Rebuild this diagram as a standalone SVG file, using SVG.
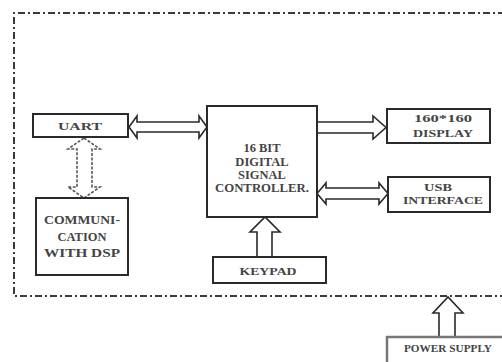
<svg xmlns="http://www.w3.org/2000/svg" width="502" height="362" viewBox="0 0 502 362">
<style>
.box{fill:#fff;stroke:#2a2a2a;stroke-width:2}
.arr{fill:#fff;stroke:#2a2a2a;stroke-width:1.6;stroke-linejoin:miter}
.dash{fill:none;stroke:#3a3a3a;stroke-width:2;stroke-dasharray:7 3 2 3}
.t{font-family:"Liberation Serif","Times New Roman",serif;font-weight:bold;fill:#444;text-anchor:middle}
</style>
<rect width="502" height="362" fill="#fff"/>
<g id="boundary">
<path class="dash" d="M520,13 L14,13 L14,296 L520,296"/>
</g>
<g id="connectors">
<path class="arr" d="M129,127 L137,116 L137,122 L199,122 L199,116 L207,127 L199,138 L199,132 L137,132 L137,138 Z"/>
<path class="arr" style="stroke:#555;stroke-dasharray:3 1.5" d="M84,138 L100,149 L92,149 L92,187 L100,187 L84,198 L68,187 L77,187 L77,149 L68,149 Z"/>
<path class="arr" d="M317,122 L373,122 L373,116 L386,127.5 L373,139 L373,133 L317,133 Z"/>
<path class="arr" d="M317,193.5 L326,183 L326,188 L379,188 L379,183 L388,193.5 L379,204 L379,199 L326,199 L326,204 Z"/>
<path class="arr" d="M257,257 L257,232 L250,232 L265,217 L280,232 L272,232 L272,257"/>
<path class="arr" d="M439,337 L439,313 L433,313 L448,297 L463,313 L455,313 L455,337"/>
</g>
<g id="uart">
<rect class="box" x="33" y="114" width="95" height="23"/>
<text class="t" x="80" y="130" font-size="10" textLength="44" lengthAdjust="spacingAndGlyphs">UART</text>
</g>
<g id="comm">
<rect class="box" x="36" y="198" width="92" height="77"/>
<text class="t" x="82" y="224" font-size="12" textLength="76" lengthAdjust="spacingAndGlyphs">COMMUNI-</text>
<text class="t" x="82" y="241" font-size="12" textLength="49" lengthAdjust="spacingAndGlyphs">CATION</text>
<text class="t" x="82" y="257" font-size="12" textLength="76" lengthAdjust="spacingAndGlyphs">WITH DSP</text>
</g>
<g id="dsc">
<rect class="box" x="207" y="106" width="110" height="111"/>
<text class="t" x="262" y="152" font-size="12.5">16 BIT</text>
<text class="t" x="262" y="166" font-size="12.5">DIGITAL</text>
<text class="t" x="262" y="179" font-size="12.5">SIGNAL</text>
<text class="t" x="262" y="192" font-size="12.5" textLength="94" lengthAdjust="spacingAndGlyphs">CONTROLLER.</text>
</g>
<g id="display">
<rect class="box" x="387" y="109" width="103" height="34"/>
<text class="t" x="443" y="122" font-size="10" textLength="58" lengthAdjust="spacingAndGlyphs">160*160</text>
<text class="t" x="443" y="137" font-size="11" textLength="60" lengthAdjust="spacingAndGlyphs">DISPLAY</text>
</g>
<g id="usb">
<rect class="box" x="388" y="177" width="102" height="35"/>
<text class="t" x="438" y="191" font-size="10" textLength="28" lengthAdjust="spacingAndGlyphs">USB</text>
<text class="t" x="443" y="204" font-size="11" textLength="80" lengthAdjust="spacingAndGlyphs">INTERFACE</text>
</g>
<g id="keypad">
<rect class="box" x="213" y="257" width="113" height="26"/>
<text class="t" x="268" y="275" font-size="11" textLength="57" lengthAdjust="spacingAndGlyphs">KEYPAD</text>
</g>
<g id="power">
<path d="M387,362 L387,337 L520,337" fill="#fff" stroke="#777" stroke-width="2.5"/>
<text class="t" x="448" y="352" font-size="9.5" textLength="88" lengthAdjust="spacingAndGlyphs">POWER SUPPLY</text>
</g>
</svg>
